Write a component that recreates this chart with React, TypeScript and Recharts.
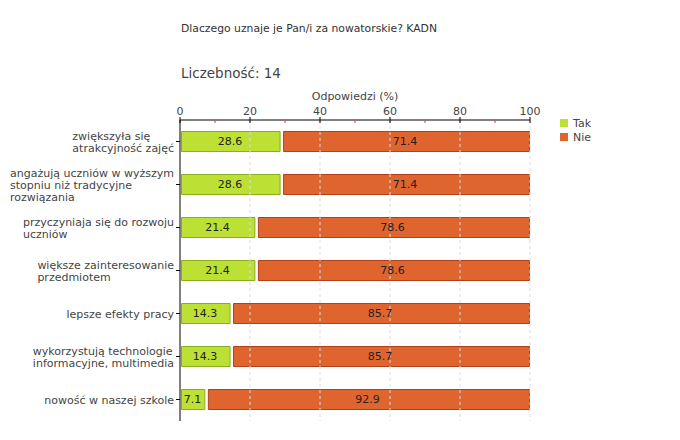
import React from "react";
import {
  BarChart, Bar, XAxis, YAxis, ReferenceLine, LabelList, Rectangle,
} from "recharts";

const categories = [
  "zwiększyła się\natrakcyjność zajęć",
  "angażują uczniów w wyższym\nstopniu niż tradycyjne\nrozwiązania",
  "przyczyniaja się do rozwoju\nuczniów",
  "większe zainteresowanie\nprzedmiotem",
  "lepsze efekty pracy",
  "wykorzystują technologie\ninformacyjne, multimedia",
  "nowość w naszej szkole",
];
const takValues = [28.6, 28.6, 21.4, 21.4, 14.3, 14.3, 7.1];
const nieValues = [71.4, 71.4, 78.6, 78.6, 85.7, 85.7, 92.9];
const xTicks = [0, 10, 20, 30, 40, 50, 60, 70, 80, 90, 100];
const gridValues = [20, 40, 60, 80, 100];

const FONT = '"DejaVu Sans", Verdana, sans-serif';
const TAK = "#bde034";
const TAK_EDGE = "#8cad1e";
const NIE = "#e0642d";
const NIE_EDGE = "#b1411a";

const data = categories.map((cat, i) => ({ cat, tak: takValues[i], nie: nieValues[i] }));

let ctx: CanvasRenderingContext2D | null = null;
const textWidth = (s: string) => {
  if (!ctx) {
    ctx = document.createElement("canvas").getContext("2d");
  }
  if (!ctx) return s.length * 6.2;
  ctx.font = `11px ${FONT}`;
  return ctx.measureText(s).width;
};

// eslint-disable-next-line @typescript-eslint/no-explicit-any
const catTick = (props: any) => {
  const { x, y, payload } = props as { x: number; y: number; payload: { value: string } };
  const lines = String(payload.value).split("\n");
  const w = Math.max(...lines.map(textWidth));
  const lh = 12;
  const y0 = y - ((lines.length - 1) * lh) / 2;
  return (
    <text x={x - w} y={y0} dy={4} fill="#444" fontSize={11} fontFamily={FONT} textAnchor="start">
      {lines.map((l, i) => (
        <tspan key={i} x={x - w} y={y0 + i * lh} dy={4}>{l}</tspan>
      ))}
    </text>
  );
};

// eslint-disable-next-line @typescript-eslint/no-explicit-any
const pctTick = (props: any) => {
  const { x, y, payload } = props as { x: number; y: number; payload: { value: number } };
  const major = payload.value % 20 === 0;
  if (!major) {
    return <line x1={x} x2={x} y1={y} y2={y + 3} stroke="#c04848" />;
  }
  return (
    <g>
      <line x1={x} x2={x} y1={y - 3} y2={y + 3} stroke="#000" />
      <text x={x} y={y - 5} textAnchor="middle" fill="#444" fontSize={11} fontFamily={FONT}>
        {payload.value}
      </text>
    </g>
  );
};

// eslint-disable-next-line @typescript-eslint/no-explicit-any
const takShape = (p: any) => (
  <Rectangle x={p.x + 1.5} y={p.y + 0.5} width={Math.max(p.width - 1.5, 0)} height={p.height - 1}
    fill={TAK} stroke={TAK_EDGE} strokeWidth={1} />
);
// eslint-disable-next-line @typescript-eslint/no-explicit-any
const nieShape = (p: any) => (
  <Rectangle x={p.x + 3.5} y={p.y + 0.5} width={Math.max(p.width - 4, 0)} height={p.height - 1}
    fill={NIE} stroke={NIE_EDGE} strokeWidth={1} />
);

export default function App() {
  return (
    <div style={{ position: "absolute", left: 0, top: 0, width: 680, height: 440, background: "#fff", fontFamily: FONT }}>
      <div style={{ position: "absolute", left: 181, top: 22, fontSize: 10.8, color: "#333" }}>
        Dlaczego uznaje je Pan/i za nowatorskie? KADN
      </div>
      <div style={{ position: "absolute", left: 181, top: 65, fontSize: 13.5, color: "#444" }}>
        Liczebność:&nbsp;14
      </div>
      <div style={{ position: "absolute", left: 180, width: 350, top: 90, fontSize: 11, color: "#444", textAlign: "center" }}>
        Odpowiedzi (%)
      </div>
      <div style={{ position: "absolute", left: 560, top: 117, fontSize: 11, color: "#444", lineHeight: "14px" }}>
        <div><span style={{ display: "inline-block", width: 8, height: 8, background: TAK, marginRight: 5 }} />Tak</div>
        <div><span style={{ display: "inline-block", width: 8, height: 8, background: NIE, marginRight: 5 }} />Nie</div>
      </div>
      <div style={{ position: "absolute", left: 0, top: 0 }}>
        <BarChart width={680} height={440} data={data} layout="vertical"
          margin={{ top: 100, right: 150, bottom: 19, left: 0 }} barSize={21}>
          {gridValues.map(v => (
            <ReferenceLine key={v} x={v} stroke="#dcdcdc" strokeDasharray="3 3" />
          ))}
          <XAxis type="number" orientation="top" domain={[0, 100]} ticks={xTicks} height={20}
            tickSize={0} tickMargin={0} tickLine={false} tick={pctTick} interval={0}
            axisLine={{ stroke: "#000" }} />
          <YAxis type="category" dataKey="cat" width={180} tick={catTick} tickSize={4} tickMargin={2}
            tickLine={{ stroke: "#000" }} axisLine={{ stroke: "#000" }} interval={0} />
          <Bar dataKey="tak" stackId="a" shape={takShape} isAnimationActive={false}>
            <LabelList dataKey="tak" position="center" fill="#222" fontSize={11} fontFamily={FONT} />
          </Bar>
          <Bar dataKey="nie" stackId="a" shape={nieShape} isAnimationActive={false}>
            <LabelList dataKey="nie" position="center" fill="#222" fontSize={11} fontFamily={FONT} />
          </Bar>
        </BarChart>
      </div>
    </div>
  );
}
